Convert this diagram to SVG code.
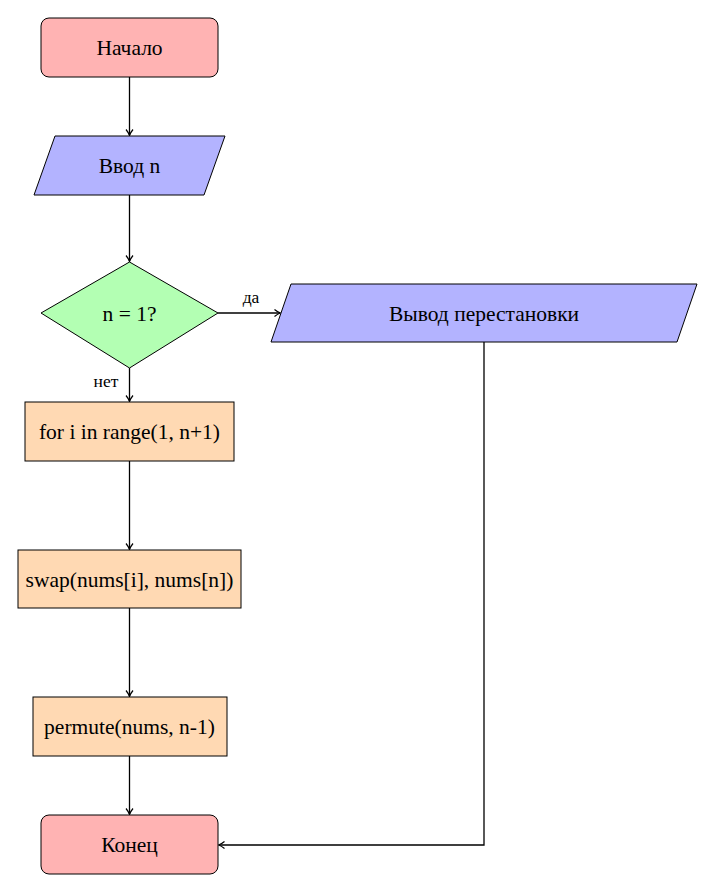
<svg xmlns="http://www.w3.org/2000/svg" width="716" height="893" viewBox="0 0 716 893">
<defs>
<style>
text{fill:#000;text-anchor:middle;font-family:"Liberation Serif","DejaVu Serif",serif;font-size:21.5px}
.lbl{font-size:17.5px}
.term{fill:#ffb3b3;stroke:#000;stroke-width:1}
.io{fill:#b3b3ff;stroke:#000;stroke-width:1}
.dec{fill:#b3ffb3;stroke:#000;stroke-width:1}
.proc{fill:#ffd9b3;stroke:#000;stroke-width:1}
.edge{fill:none;stroke:#000;stroke-width:1.3}
</style>
<marker id="arr" markerWidth="10" markerHeight="10" refX="7" refY="5" orient="auto" markerUnits="userSpaceOnUse">
<path d="M1.5,1.5 Q4.5,4 7.5,5 Q4.5,6 1.5,8.5" fill="none" stroke="#000" stroke-width="1.2"/>
</marker>
</defs>
<rect width="716" height="893" fill="#fff"/>
<g id="connectors">
<path class="edge" d="M129.5,77 V135" marker-end="url(#arr)"/>
<path class="edge" d="M129.5,195 V261" marker-end="url(#arr)"/>
<path class="edge" d="M129.5,368 V401" marker-end="url(#arr)"/>
<path class="edge" d="M218,313 H280" marker-end="url(#arr)"/>
<path class="edge" d="M129.5,461 V549" marker-end="url(#arr)"/>
<path class="edge" d="M129.5,608 V696" marker-end="url(#arr)"/>
<path class="edge" d="M129.5,756 V814" marker-end="url(#arr)"/>
<path class="edge" d="M484,342 V845 H219" marker-end="url(#arr)"/>
<text class="lbl" x="251" y="303">да</text>
<text class="lbl" x="106" y="387">нет</text>
</g>
<g id="start">
<rect class="term" x="41" y="18" width="177" height="59" rx="8"/>
<text x="129.5" y="55">Начало</text>
</g>
<g id="input">
<polygon class="io" points="55,136 225,136 204,195 34,195"/>
<text x="129.5" y="173">Ввод n</text>
</g>
<g id="decision">
<polygon class="dec" points="129.5,262 218,313 129.5,368 41,313"/>
<text x="129.5" y="320.5">n = 1?</text>
</g>
<g id="output">
<polygon class="io" points="291,284 697,284 677,342 271,342"/>
<text x="484" y="320.5">Вывод перестановки</text>
</g>
<g id="loop">
<rect class="proc" x="25" y="402" width="209" height="59"/>
<text x="129.5" y="439">for i in range(1, n+1)</text>
</g>
<g id="swap">
<rect class="proc" x="18" y="550" width="223" height="58"/>
<text x="129.5" y="586.5">swap(nums[i], nums[n])</text>
</g>
<g id="permute">
<rect class="proc" x="33" y="697" width="194" height="59"/>
<text x="129.5" y="734">permute(nums, n-1)</text>
</g>
<g id="end">
<rect class="term" x="41" y="815" width="177" height="59" rx="8"/>
<text x="129.5" y="852">Конец</text>
</g>
</svg>
